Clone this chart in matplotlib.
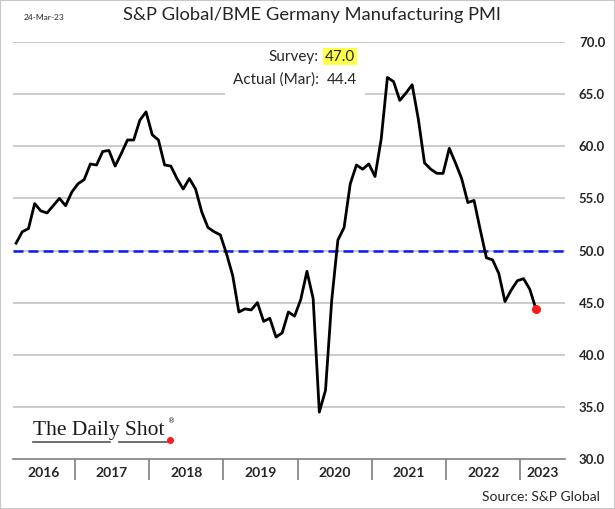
import matplotlib

matplotlib.use("Agg")

import matplotlib.pyplot as plt
import numpy as np
import pandas as pd
from matplotlib.lines import Line2D
from matplotlib.patches import Rectangle

# Germany manufacturing PMI, monthly, Mar 2016 .. Mar 2023
start = "2016-03"
pmi = [
    50.7, 51.8, 52.1, 54.5, 53.8, 53.6, 54.3, 55.0, 54.3, 55.6,
    56.4, 56.8, 58.3, 58.2, 59.5, 59.6, 58.1, 59.3, 60.6, 60.6, 62.5, 63.3,
    61.1, 60.6, 58.2, 58.1, 56.9, 55.9, 56.9, 55.9, 53.7, 52.2, 51.8, 51.5,
    49.7, 47.6, 44.1, 44.4, 44.3, 45.0, 43.2, 43.5, 41.7, 42.1, 44.1, 43.7,
    45.3, 48.0, 45.4, 34.5, 36.6, 45.2, 51.0, 52.2, 56.4, 58.2, 57.8, 58.3,
    57.1, 60.7, 66.6, 66.2, 64.4, 65.1, 65.9, 62.6, 58.4, 57.8, 57.4, 57.4,
    59.8, 58.4, 56.9, 54.6, 54.8, 52.0, 49.3, 49.1, 47.8, 45.1, 46.2, 47.1,
    47.3, 46.3, 44.4,
]
survey = 47.0
actual = 44.4
threshold = 50.0
y_ticks = [30, 35, 40, 45, 50, 55, 60, 65, 70]

FONT = "Lato"
DARK = "#262626"

months = pd.period_range(start, periods=len(pmi), freq="M")
x = np.arange(len(pmi))
xmin, xmax = -0.5, 88.7

fig = plt.figure(figsize=(6.15, 5.09), dpi=100)
fig.patches.append(Rectangle((0, 0), 1, 1, transform=fig.transFigure,
                             fill=False, edgecolor="#c8c8c8", linewidth=1.5))

ax = fig.add_axes([13 / 615, 50 / 509, 552 / 615, 417 / 509])
ax.set_xlim(xmin, xmax)
ax.set_ylim(30, 70)

# grid lines first so everything sits on top of them
for v in y_ticks[1:]:
    ax.axhline(v, color="#bdbdbd", linewidth=1.1, zorder=1)

ax.plot(x, pmi, color="black", linewidth=2.0, zorder=3)
ax.plot(x[-1], pmi[-1], "o", color="#ff1a1a", markersize=5.5, zorder=4)
ax.axhline(threshold, color="#0a1aff", linewidth=1.8, linestyle=(0, (4, 2)), zorder=2)

ax.set_yticks(y_ticks)
ax.set_yticklabels([f"{v:.1f}" for v in y_ticks])
ax.yaxis.tick_right()
ax.tick_params(axis="y", length=0, pad=10, labelsize=9.5, labelcolor=DARK)
for lab in ax.get_yticklabels():
    lab.set_fontweight("bold")
    lab.set_fontfamily(FONT)

for s in ["top", "left", "right"]:
    ax.spines[s].set_visible(False)
ax.spines["bottom"].set_color("#7f7f7f")
ax.spines["bottom"].set_linewidth(1.2)

# year separators and labels
jan = [i for i, m in enumerate(months) if m.month == 1]
seps = [i - 0.5 for i in jan]
edges = [xmin] + seps + [xmax]
mids = [(a + b) / 2 for a, b in zip(edges[:-1], edges[1:])]
years = [str(months[0].year)] + [str(months[i].year) for i in jan]
ax.set_xticks(seps, minor=True)
ax.set_xticks(mids)
ax.set_xticklabels(years)
ax.tick_params(axis="x", which="major", length=0, pad=6, labelsize=10, labelcolor=DARK)
ax.tick_params(axis="x", which="minor", length=15, width=1.2, color="#7f7f7f", direction="out")
for lab in ax.get_xticklabels():
    lab.set_fontweight("bold")
    lab.set_fontfamily(FONT)

# titles and notes
fig.text(312 / 615, 1 - 15 / 509, "S&P Global/BME Germany Manufacturing PMI",
         ha="center", va="center", fontsize=13.2, family=FONT, color=DARK)
fig.text(24 / 615, 1 - 18 / 509, "24-Mar-23", ha="left", va="center",
         fontsize=6, family=FONT, color=DARK)
fig.text(600 / 615, 1 - 497 / 509, "Source: S&P Global", ha="right", va="center",
         fontsize=10, family=FONT, color=DARK)

fig.text(319 / 615, 1 - 57 / 509, "Survey:", ha="right", va="center",
         fontsize=11, family=FONT, color=DARK)
fig.text(325 / 615, 1 - 57 / 509, f"{survey:.1f}", ha="left", va="center",
         fontsize=11, family=FONT, color=DARK,
         bbox=dict(boxstyle="square,pad=0.12", facecolor="#ffff4d", edgecolor="none"))
fig.text(319 / 615, 1 - 80 / 509, "Actual (Mar):", ha="right", va="center",
         fontsize=11, family=FONT, color=DARK,
         bbox=dict(boxstyle="square,pad=0.5", facecolor="white", edgecolor="none"))
fig.text(327 / 615, 1 - 80 / 509, f"{actual:.1f}", ha="left", va="center",
         fontsize=11, family=FONT, color=DARK,
         bbox=dict(boxstyle="square,pad=0.5", facecolor="white", edgecolor="none"))

# logo
fig.text(33 / 615, 1 - 435 / 509, "The Daily Shot", ha="left", va="baseline",
         fontsize=15.5, family="Liberation Serif", color="#1a1a1a")
fig.text(168 / 615, 1 - 421 / 509, "®", ha="left", va="center",
         fontsize=5, family="DejaVu Sans", color="#1a1a1a")
for x0, x1 in [(33, 110), (119, 167)]:
    fig.add_artist(Line2D([x0 / 615, x1 / 615], [1 - 442 / 509] * 2,
                          transform=fig.transFigure, color="#555555", linewidth=1.2))
fig.add_artist(Line2D([170 / 615], [1 - 440 / 509], transform=fig.transFigure,
                      marker="o", color="#ff1a1a", markersize=4))

fig.savefig("out.png", dpi=100)
plt.close(fig)
